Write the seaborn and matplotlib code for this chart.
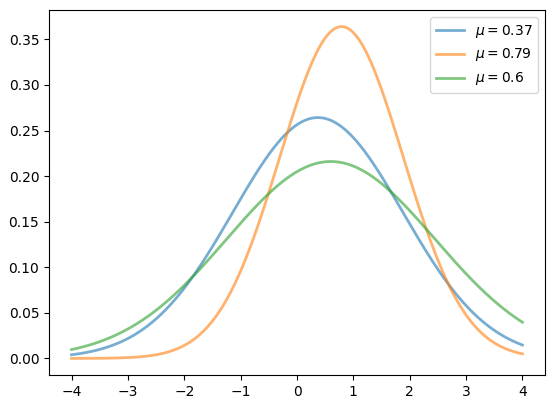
import numpy as np
import pandas as pd
import seaborn as sns
import matplotlib
matplotlib.use("Agg")
import matplotlib.pyplot as plt

# normal densities: means from the legend, spreads estimated from peak heights
MUS = [0.37, 0.79, 0.6]
SIGMAS = [1.51, 1.096, 1.847]
COLORS = ['#1f77b4', '#ff7f0e', '#2ca02c']

x = np.linspace(-4, 4, 400)

fig = plt.figure(figsize=(5.56, 4.13), dpi=100)
ax = fig.add_axes([49 / 556, 38 / 413, 496 / 556, 365 / 413])

for mu, sigma, c in zip(MUS, SIGMAS, COLORS):
    y = np.exp(-0.5 * ((x - mu) / sigma) ** 2) / (sigma * np.sqrt(2 * np.pi))
    df = pd.DataFrame({'x': x, 'y': y})
    sns.lineplot(data=df, x='x', y='y', ax=ax, color=c, alpha=0.6, lw=2,
                 label=rf'$\mu = {mu}$')

ax.set_xlabel('')
ax.set_ylabel('')
ax.legend(loc='upper right')
fig.savefig('out.png', dpi=100)
